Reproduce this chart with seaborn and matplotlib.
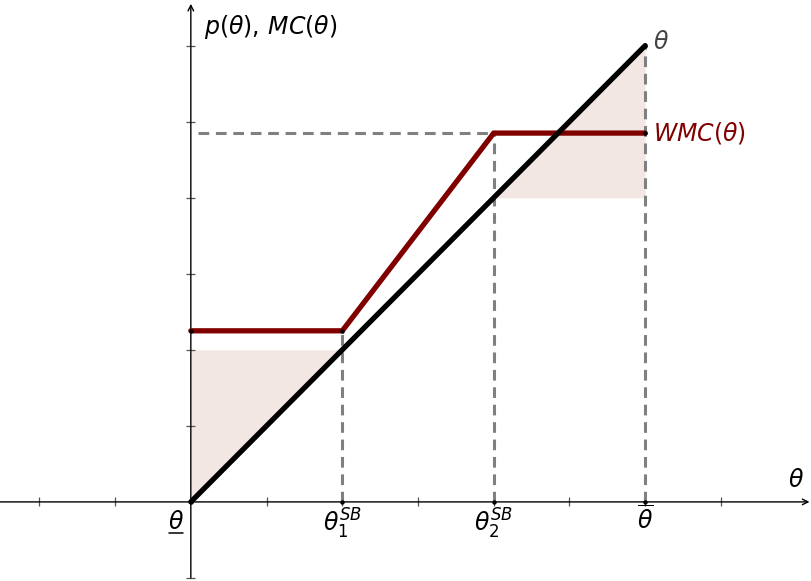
import matplotlib
matplotlib.use("Agg")
import matplotlib.pyplot as plt
import seaborn as sns
import numpy as np
import pandas as pd

# model values (in tick units)
theta_lo, theta1, theta2, theta_hi = 0, 2, 4, 6
mc_x = [0, 6]
mc_y = [0, 6]
wmc_x = [0, 2, 4, 6]
wmc_y = [2.25, 2.25, 4.85, 4.85]
xticks = [-2, -1, 1, 2, 3, 4, 5, 6, 7]
yticks = [-1, 1, 2, 3, 4, 5, 6]
shade_lo_x = [0, 2]
shade_lo_top = 2
shade_hi_x = [4, 6]
shade_hi_bot = 4

sns.set_style("white")
plt.rcParams['mathtext.fontset'] = 'dejavusans'
plt.rcParams['text.color'] = 'black'

fig = plt.figure(figsize=(8.11, 5.81), dpi=100)
ax = fig.add_axes([0, 0, 1, 1])
ax.set_xlim(-2.52, 8.19)
ax.set_ylim(-1.04, 6.6)
ax.axis('off')

maroon = '#800000'
shade = '#f2e7e2'
grey = '#808080'

# shaded areas
xs = np.array(shade_lo_x, dtype=float)
ax.fill_between(xs, xs, shade_lo_top, color=shade, lw=0, zorder=1)
xs = np.array(shade_hi_x, dtype=float)
ax.fill_between(xs, shade_hi_bot, xs, color=shade, lw=0, zorder=1)

# axes with arrows and ticks
ax.annotate('', xy=(8.17, 0), xytext=(-2.55, 0),
            arrowprops=dict(arrowstyle='->', lw=1, color='black', shrinkA=0, shrinkB=0))
ax.annotate('', xy=(0, 6.55), xytext=(0, -1.0),
            arrowprops=dict(arrowstyle='->', lw=1, color='black', shrinkA=0, shrinkB=0))
ax.vlines(xticks, -0.06, 0.06, color='#555555', lw=0.9, zorder=2)
ax.hlines(yticks, -0.06, 0.06, color='#555555', lw=0.9, zorder=2)

# dashed guides
dash = dict(color=grey, lw=2.2, ls=(0, (3.5, 2.2)), zorder=2)
ax.plot([theta1, theta1], [0, wmc_y[1]], **dash)
ax.plot([theta2, theta2], [0, wmc_y[2]], **dash)
ax.plot([theta_hi, theta_hi], [0, mc_y[1]], **dash)
ax.plot([0.1, theta2], [wmc_y[2], wmc_y[2]], **dash)

# curves
df_mc = pd.DataFrame({'x': mc_x, 'y': mc_y})
df_wmc = pd.DataFrame({'x': wmc_x, 'y': wmc_y})
sns.lineplot(data=df_mc, x='x', y='y', color='black', lw=3.8, ax=ax, zorder=4,
             solid_capstyle='round')
sns.lineplot(data=df_wmc, x='x', y='y', color=maroon, lw=3.8, ax=ax, zorder=3,
             solid_capstyle='round', solid_joinstyle='miter')

# small dots
ax.scatter([0, theta1, theta2, theta_hi, theta1, theta_hi, theta_hi, 0],
           [0, 0, 0, 0, wmc_y[1], wmc_y[3], mc_y[1], wmc_y[0]],
           s=10, color='black', zorder=5, lw=0)

fs = 17
ax.text(8.1, 0.13, r'$\theta$', fontsize=fs, ha='right', va='bottom')
ax.text(0.17, 6.25, r'$p(\theta),\, MC(\theta)$', fontsize=fs, ha='left', va='center')
ax.text(6.1, 6.05, r'$\theta$', fontsize=fs, ha='left', va='center', color='#444444')
ax.text(6.1, 4.85, r'$WMC(\theta)$', fontsize=fs, ha='left', va='center', color=maroon)

ax.text(-0.19, -0.1, r'$\theta$', fontsize=fs, ha='center', va='top')
ax.plot([-0.29, -0.1], [-0.41, -0.41], color='black', lw=1.1)
ax.text(theta1, -0.07, r'$\theta_1^{SB}$', fontsize=fs, ha='center', va='top')
ax.text(theta2, -0.07, r'$\theta_2^{SB}$', fontsize=fs, ha='center', va='top')
ax.text(theta_hi, -0.06, r'$\overline{\theta}$', fontsize=fs, ha='center', va='top')

fig.savefig('out.png', dpi=100)
